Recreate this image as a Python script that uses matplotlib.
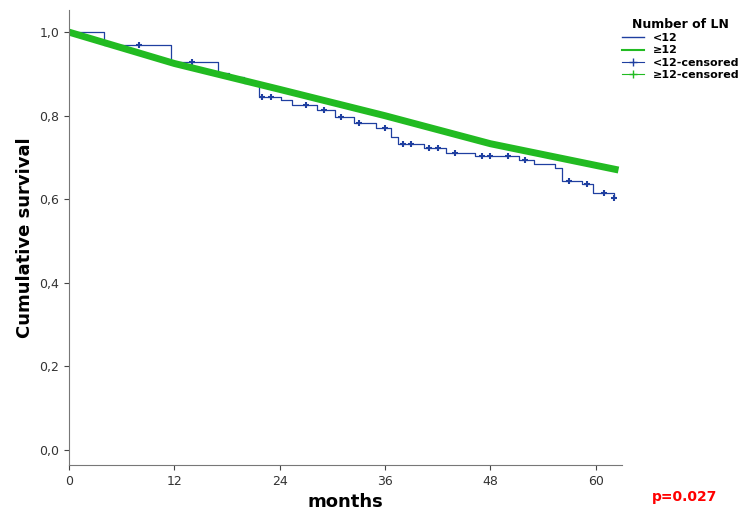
import matplotlib
matplotlib.use("Agg")
import matplotlib.pyplot as plt
from matplotlib.lines import Line2D

blue_t = [0, 4.0, 11.6, 17.0, 18.2, 19.9, 21.6, 24.1, 25.4, 28.3, 30.3, 32.5, 35.0, 36.7, 37.5, 40.4, 42.9, 46.3, 51.3, 53.0, 55.4, 56.2, 58.4, 59.7, 62.1]
blue_s = [1.0, 0.969, 0.929, 0.902, 0.892, 0.878, 0.845, 0.837, 0.825, 0.813, 0.797, 0.782, 0.770, 0.750, 0.732, 0.722, 0.711, 0.703, 0.694, 0.684, 0.675, 0.644, 0.636, 0.616, 0.603]
green_t = [0, 12, 24, 36, 48, 62.6]
green_s = [1.0, 0.925, 0.863, 0.800, 0.733, 0.670]
cens_t = [5, 8, 14, 22, 23, 27, 29, 31, 33, 36, 38, 39, 41, 42, 44, 47, 48, 50, 52, 57, 59, 61, 62.1]

xticks = [0, 12, 24, 36, 48, 60]
yticks = [0.0, 0.2, 0.4, 0.6, 0.8, 1.0]

def surv_at(t):
    v = blue_s[0]
    for tt, ss in zip(blue_t, blue_s):
        if tt <= t:
            v = ss
    return v

fig = plt.figure(figsize=(7.46, 5.21), dpi=100)
ax = fig.add_axes([69/746, 56/521, (622-69)/746, (465-10)/521])
ax.step(blue_t, blue_s, where="post", color="#1f3fa0", lw=0.9)
ax.plot(cens_t, [surv_at(t) for t in cens_t], "+", color="#1f3fa0", ms=4, mew=1.5)
ax.plot(green_t, green_s, color="#22bb22", lw=5, solid_capstyle="butt")
ax.set_xlim(0, 63)
ax.set_ylim(-0.036, 1.053)
ax.set_xticks(xticks)
ax.set_yticks(yticks)
ax.set_yticklabels([f"{v:.1f}".replace(".", ",") for v in yticks])
ax.tick_params(labelsize=9, colors="#444444", labelcolor="#333333")
for s in ["top", "right"]:
    ax.spines[s].set_visible(False)
for s in ["left", "bottom"]:
    ax.spines[s].set_color("#777777")
ax.set_xlabel("months", fontsize=13, fontweight="bold")
ax.set_ylabel("Cumulative survival", fontsize=13, fontweight="bold")
fig.text(652/746, 1-497/521, "p=0.027", color="red", fontsize=10, fontweight="bold", va="center")

handles = [Line2D([], [], color="#1f3fa0", lw=1, drawstyle="steps-post"),
           Line2D([], [], color="#22bb22", lw=1.5),
           Line2D([], [], color="#1f3fa0", marker="+", lw=0.8),
           Line2D([], [], color="#22bb22", marker="+", lw=0.8)]
leg = fig.legend(handles, ["<12", "≥12", "<12-censored", "≥12-censored"],
                 title="Number of LN", loc="upper left", bbox_to_anchor=(612/746, 1-8/521),
                 frameon=False, fontsize=8, handlelength=2, labelspacing=0.2)
leg.get_title().set_fontweight("bold")
leg.get_title().set_fontsize(9)
for t in leg.get_texts():
    t.set_fontweight("bold")
fig.savefig("out.png", dpi=100)
